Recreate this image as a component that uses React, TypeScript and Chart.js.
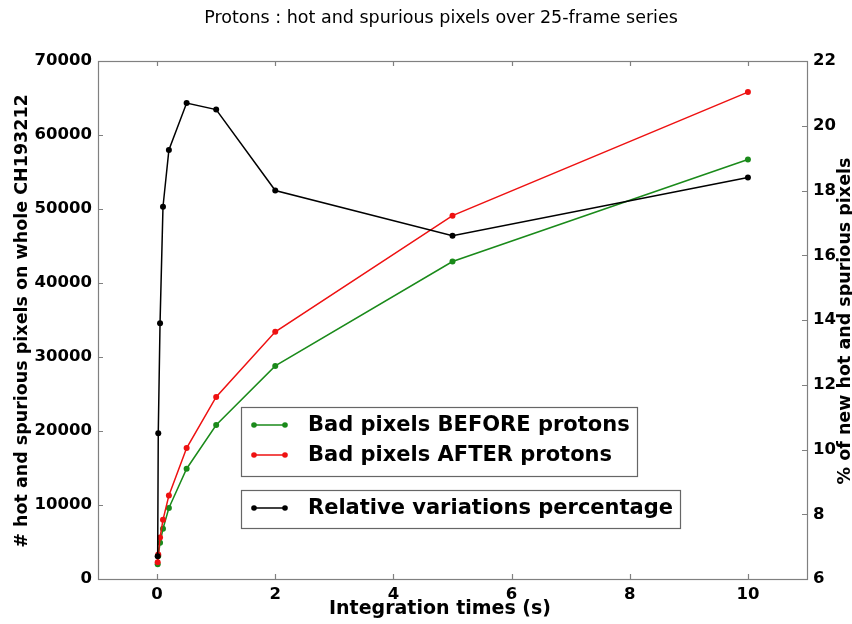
import { useEffect, useRef } from 'react';
import { Chart, registerables } from 'chart.js';

Chart.register(...registerables);

const TITLE = 'Protons : hot and spurious pixels over 25-frame series';
const X_TITLE = 'Integration times (s)';
const Y_LEFT_TITLE = '# hot and spurious pixels on whole CH193212';
const Y_RIGHT_TITLE = '% of new hot and spurious pixels';

const integrationTimes = [0.01, 0.02, 0.05, 0.1, 0.2, 0.5, 1, 2, 5, 10];
const badBefore = [2000, 3100, 4900, 6800, 9600, 14900, 20800, 28800, 42900, 56700];
const badAfter = [2250, 3300, 5600, 8000, 11300, 17700, 24600, 33400, 49100, 65800];
const relativeVariation = [6.7, 10.5, 13.9, 17.5, 19.25, 20.7, 20.5, 18.0, 16.6, 18.4];

const xTicks = [0, 2, 4, 6, 8, 10];
const yLeftTicks = [0, 10000, 20000, 30000, 40000, 50000, 60000, 70000];
const yRightTicks = [6, 8, 10, 12, 14, 16, 18, 20, 22];

const GREEN = '#1a8a1a';
const RED = '#ee1111';
const BLACK = '#000000';
const FONT = '"DejaVu Sans", sans-serif';

const legendGroup1 = [
  { label: 'Bad pixels BEFORE protons', color: GREEN },
  { label: 'Bad pixels AFTER protons', color: RED },
];
const legendGroup2 = [{ label: 'Relative variations percentage', color: BLACK }];

const decorations = {
  id: 'decorations',
  afterDraw(chart: any) {
    const { ctx, chartArea } = chart;
    const { left, right, top, bottom } = chartArea;
    const sx = chart.scales.x;
    const sy = chart.scales.y;
    const sy1 = chart.scales.y1;
    ctx.save();
    // frame
    ctx.strokeStyle = '#808080';
    ctx.lineWidth = 1.2;
    ctx.strokeRect(Math.round(left) + 0.5, Math.round(top) + 0.5, Math.round(right - left), Math.round(bottom - top));
    // inward ticks
    ctx.beginPath();
    const TL = 5;
    xTicks.forEach((v) => {
      const px = Math.round(sx.getPixelForValue(v)) + 0.5;
      ctx.moveTo(px, bottom);
      ctx.lineTo(px, bottom - TL);
      ctx.moveTo(px, top);
      ctx.lineTo(px, top + TL);
    });
    yLeftTicks.forEach((v) => {
      const py = Math.round(sy.getPixelForValue(v)) + 0.5;
      ctx.moveTo(left, py);
      ctx.lineTo(left + TL, py);
    });
    yRightTicks.forEach((v) => {
      const py = Math.round(sy1.getPixelForValue(v)) + 0.5;
      ctx.moveTo(right, py);
      ctx.lineTo(right - TL, py);
    });
    ctx.stroke();

    // titles
    ctx.fillStyle = '#000';
    ctx.textAlign = 'center';
    ctx.textBaseline = 'middle';
    ctx.font = `17.5px ${FONT}`;
    ctx.fillText(TITLE, 441, 18);
    ctx.font = `bold 19px ${FONT}`;
    ctx.fillText(X_TITLE, 440, 609);
    ctx.font = `bold 17.5px ${FONT}`;
    ctx.save();
    ctx.translate(22, 321);
    ctx.rotate(-Math.PI / 2);
    ctx.fillText(Y_LEFT_TITLE, 0, 0);
    ctx.restore();
    ctx.save();
    ctx.translate(845, 321);
    ctx.rotate(-Math.PI / 2);
    ctx.fillText(Y_RIGHT_TITLE, 0, 0);
    ctx.restore();

    // legends
    const drawBox = (x: number, y: number, w: number, h: number) => {
      ctx.fillStyle = '#fff';
      ctx.fillRect(x, y, w, h);
      ctx.strokeStyle = '#666';
      ctx.lineWidth = 1.2;
      ctx.strokeRect(x + 0.5, y + 0.5, w, h);
    };
    const drawEntry = (y: number, label: string, color: string) => {
      ctx.strokeStyle = color;
      ctx.lineWidth = 1.5;
      ctx.beginPath();
      ctx.moveTo(254, y);
      ctx.lineTo(285, y);
      ctx.stroke();
      ctx.fillStyle = color;
      [254, 285].forEach((px) => {
        ctx.beginPath();
        ctx.arc(px, y, 2.8, 0, Math.PI * 2);
        ctx.fill();
      });
      ctx.fillStyle = '#000';
      ctx.textAlign = 'left';
      ctx.textBaseline = 'middle';
      ctx.font = `bold 21px ${FONT}`;
      ctx.fillText(label, 308, y + 1);
    };
    drawBox(241, 407, 396, 69);
    legendGroup1.forEach((e, i) => drawEntry(425 + i * 30, e.label, e.color));
    drawBox(241, 490, 439, 38);
    legendGroup2.forEach((e) => drawEntry(508, e.label, e.color));
    ctx.restore();
  },
};

export default function App() {
  const ref = useRef<HTMLCanvasElement>(null);
  useEffect(() => {
    if (!ref.current) return;
    const tickFont = { family: FONT, size: 16.5, weight: 'bold' as const };
    const plain = (v: any) => String(v);
    const chart = new Chart(ref.current, {
      type: 'line',
      data: {
        datasets: [
          {
            label: 'Relative variations percentage',
            data: integrationTimes.map((x, i) => ({ x, y: relativeVariation[i] })),
            borderColor: BLACK,
            backgroundColor: BLACK,
            yAxisID: 'y1',
            borderWidth: 1.5,
            pointRadius: 3,
            pointBorderWidth: 0,
            order: 0,
          },
          {
            label: 'Bad pixels AFTER protons',
            data: integrationTimes.map((x, i) => ({ x, y: badAfter[i] })),
            borderColor: RED,
            backgroundColor: RED,
            yAxisID: 'y',
            borderWidth: 1.5,
            pointRadius: 3,
            pointBorderWidth: 0,
            order: 1,
          },
          {
            label: 'Bad pixels BEFORE protons',
            data: integrationTimes.map((x, i) => ({ x, y: badBefore[i] })),
            borderColor: GREEN,
            backgroundColor: GREEN,
            yAxisID: 'y',
            borderWidth: 1.5,
            pointRadius: 3,
            pointBorderWidth: 0,
            order: 2,
          },
        ],
      },
      options: {
        animation: false,
        responsive: true,
        maintainAspectRatio: false,
        layout: { padding: { top: 61, left: 0, right: 0, bottom: 0 } },
        plugins: { legend: { display: false }, title: { display: false }, tooltip: { enabled: false } },
        scales: {
          x: {
            type: 'linear',
            min: -1,
            max: 11,
            grid: { display: false, drawTicks: false },
            border: { display: false },
            afterBuildTicks: (s: any) => {
              s.ticks = xTicks.map((v) => ({ value: v }));
            },
            afterFit: (s: any) => {
              s.height = 45;
            },
            ticks: { font: tickFont, color: '#000', padding: 6, maxRotation: 0, callback: plain },
          },
          y: {
            type: 'linear',
            position: 'left',
            min: 0,
            max: 70000,
            grid: { display: false, drawTicks: false },
            border: { display: false },
            afterBuildTicks: (s: any) => {
              s.ticks = yLeftTicks.map((v) => ({ value: v }));
            },
            afterFit: (s: any) => {
              s.width = 98;
            },
            ticks: { font: tickFont, color: '#000', padding: 6, callback: plain },
          },
          y1: {
            type: 'linear',
            position: 'right',
            min: 6,
            max: 22,
            grid: { display: false, drawTicks: false },
            border: { display: false },
            afterBuildTicks: (s: any) => {
              s.ticks = yRightTicks.map((v) => ({ value: v }));
            },
            afterFit: (s: any) => {
              s.width = 45;
            },
            ticks: { font: tickFont, color: '#000', padding: 6, callback: plain },
          },
        },
      },
      plugins: [decorations],
    });
    return () => chart.destroy();
  }, []);
  return (
    <div style={{ position: 'fixed', left: 0, top: 0, width: 852, height: 624, background: '#fff' }}>
      <canvas ref={ref} />
    </div>
  );
}
